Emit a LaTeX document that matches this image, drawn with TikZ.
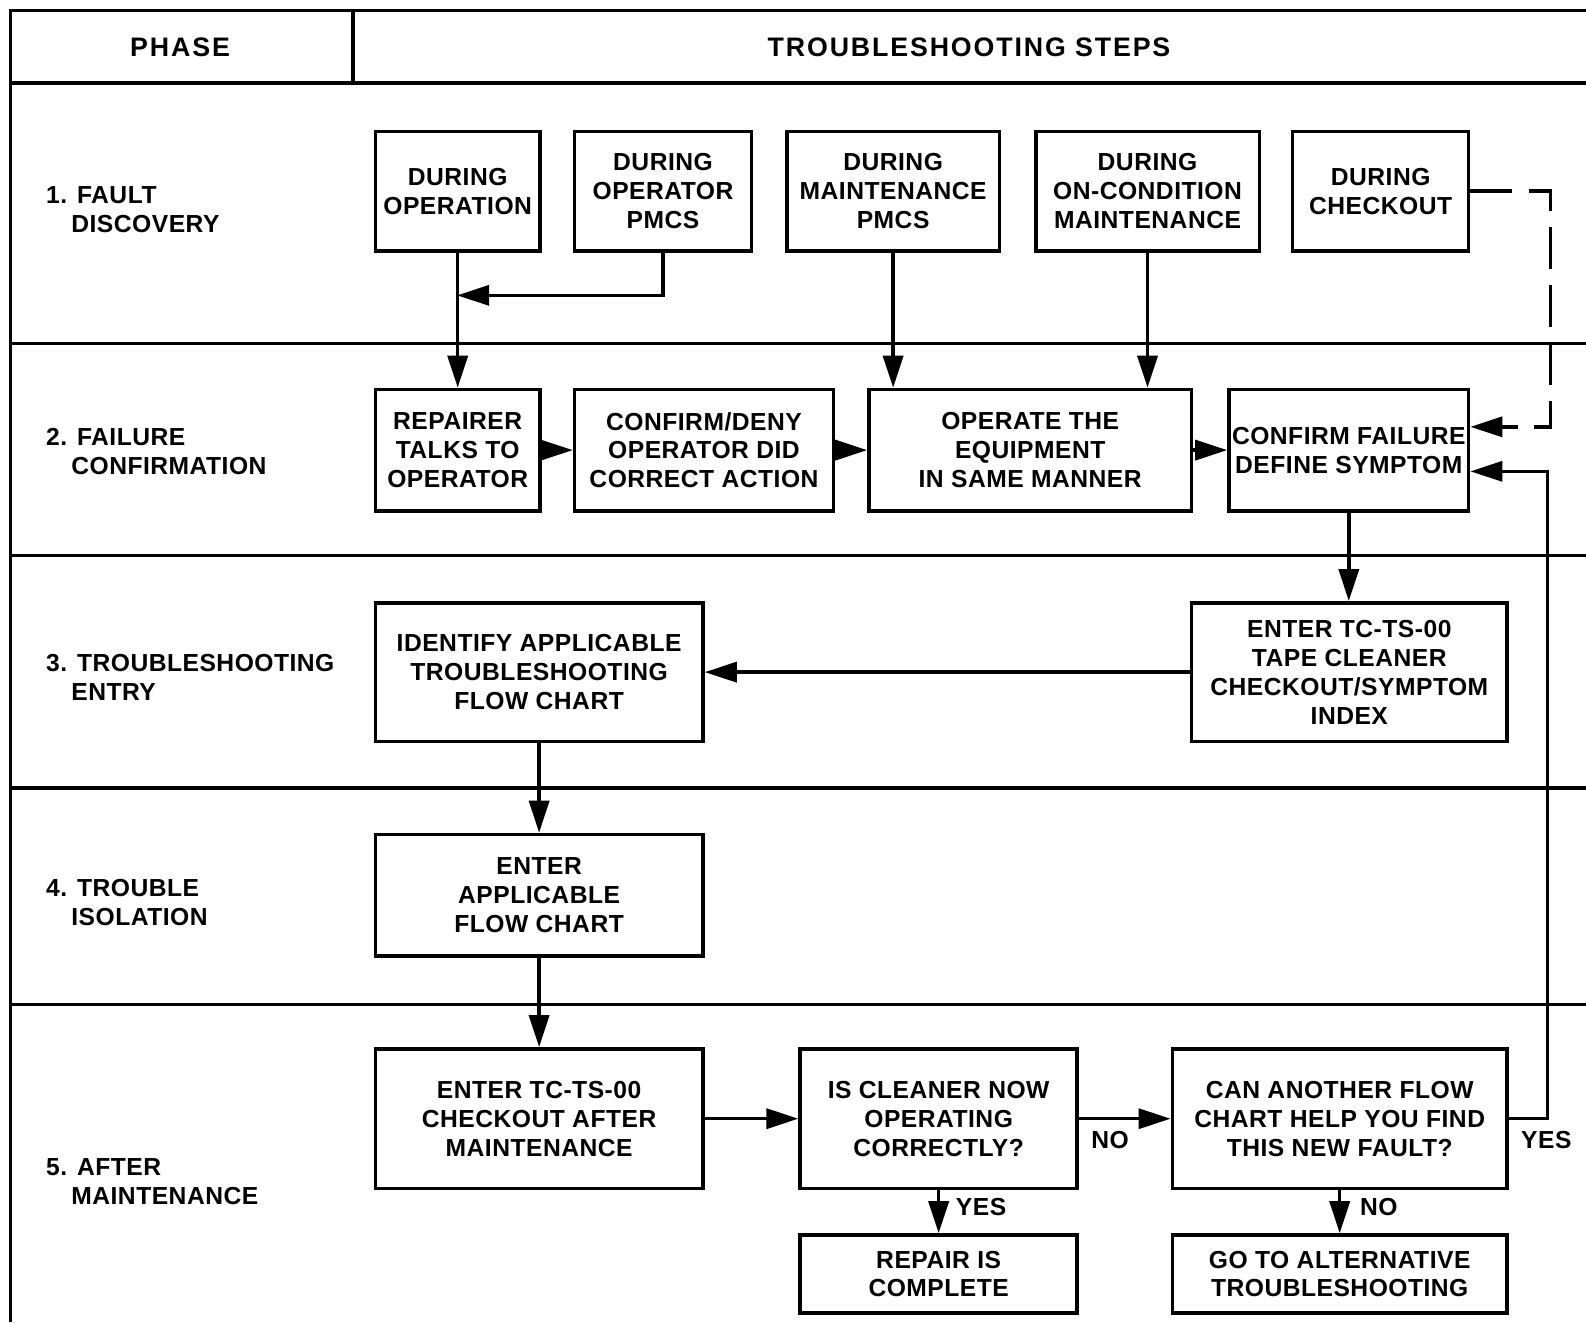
\documentclass[tikz,border=0pt]{standalone}
\usepackage{fontspec}
\setmainfont{Liberation Sans}
\newfontfamily\stepfamily{Liberation Sans}[LetterSpace=2]
\newfontfamily\headfamily{Liberation Sans}[LetterSpace=7]
\usetikzlibrary{arrows.meta,positioning}

\newcommand{\stepfont}{\fontsize{7}{8.2}\selectfont\stepfamily\bfseries}
\newcommand{\headfont}{\fontsize{7.6}{9}\selectfont\headfamily\bfseries}
\tikzset{
  box/.style={draw, line width=1pt, inner sep=0pt, align=center, font=\stepfont},
  corners/.style n args={4}{at={({(#1+#3)/2},{(#2+#4)/2})},
    minimum width={(#3-#1)*0.0101cm}, minimum height={(#4-#2)*0.0101cm}},
  flow/.style={line width=1pt, -{Triangle[length=0.32cm,width=0.2cm]}},
  rule/.style={line width=0.9pt},
  phase/.style={anchor=west, align=left, inner sep=0pt, font=\stepfont},
  head/.style={font=\headfont},
  answer/.style={font=\stepfont, inner sep=3pt},
}

\begin{document}
\begin{tikzpicture}[x=0.0101cm,y=-0.0101cm]
\useasboundingbox (0,0) rectangle (1568,1307);

% Table frame and phase rows
\draw[rule] (1568,10) -- (10,10) -- (10,1307);
\draw[rule] (10,82) -- (1568,82);
\draw[rule] (349,10) -- (349,82);
\foreach \yy in {340,549,779,993}
  \draw[rule] (10,\yy) -- (1568,\yy);

% Header
\node[head] (phasehead) at (178,47) {PHASE};
\node[head] (stepshead) at (958,47) {TROUBLESHOOTING STEPS};

% Phase names
\node[phase] (ph1) at (45,207) {1. FAULT\\\phantom{1.\,}DISCOVERY};
\node[phase] (ph2) at (45,446) {2. FAILURE\\\phantom{1.\,}CONFIRMATION};
\node[phase] (ph3) at (45,670) {3. TROUBLESHOOTING\\\phantom{1.\,}ENTRY};
\node[phase] (ph4) at (45,892) {4. TROUBLE\\\phantom{1.\,}ISOLATION};
\node[phase] (ph5) at (45,1168) {5. AFTER\\\phantom{1.\,}MAINTENANCE};

% 1. Fault discovery
\node[box, corners={371}{130}{534}{248}] (duringop) {DURING\\OPERATION};
\node[box, corners={568}{130}{743}{248}] (oppmcs) {DURING\\OPERATOR\\PMCS};
\node[box, corners={778}{130}{988}{248}] (maintpmcs) {DURING\\MAINTENANCE\\PMCS};
\node[box, corners={1024}{130}{1245}{248}] (oncond) {DURING\\ON-CONDITION\\MAINTENANCE};
\node[box, corners={1278}{130}{1452}{248}] (checkout) {DURING\\CHECKOUT};

% 2. Failure confirmation
\node[box, corners={371}{385}{534}{505}] (repairer) {REPAIRER\\TALKS TO\\OPERATOR};
\node[box, corners={568}{385}{824}{505}] (confdeny) {CONFIRM/DENY\\OPERATOR DID\\CORRECT ACTION};
\node[box, corners={859}{385}{1178}{505}] (operate) {OPERATE THE\\EQUIPMENT\\IN SAME MANNER};
\node[box, corners={1215}{385}{1452}{505}] (confirm) {CONFIRM FAILURE\\DEFINE SYMPTOM};

% 3. Troubleshooting entry
\node[box, corners={371}{596}{695}{733}] (identify) {IDENTIFY APPLICABLE\\TROUBLESHOOTING\\FLOW CHART};
\node[box, corners={1178}{596}{1490}{733}] (tapeindex) {ENTER TC-TS-00\\TAPE CLEANER\\CHECKOUT/SYMPTOM\\INDEX};

% 4. Trouble isolation
\node[box, corners={371}{825}{695}{945}] (enterflow) {ENTER\\APPLICABLE\\FLOW CHART};

% 5. After maintenance
\node[box, corners={371}{1037}{695}{1175}] (checkafter) {ENTER TC-TS-00\\CHECKOUT AFTER\\MAINTENANCE};
\node[box, corners={791}{1037}{1065}{1175}] (cleaner) {IS CLEANER NOW\\OPERATING\\CORRECTLY?};
\node[box, corners={1159}{1037}{1490}{1175}] (another) {CAN ANOTHER FLOW\\CHART HELP YOU FIND\\THIS NEW FAULT?};
\node[box, corners={791}{1221}{1065}{1298}] (complete) {REPAIR IS\\COMPLETE};
\node[box, corners={1159}{1221}{1490}{1298}] (alternative) {GO TO ALTERNATIVE\\TROUBLESHOOTING};

% Connectors
\coordinate (merge) at (452,292);
\coordinate (dashturn) at (1533,422);
\coordinate (loopturn) at (1530,466);

\draw[flow] (duringop.south) -- (repairer.north);
\draw[flow] (oppmcs.south) |- (merge);
\draw[flow] (maintpmcs.south) -- (maintpmcs.south |- operate.north);
\draw[flow] (oncond.south) -- (oncond.south |- operate.north);
\draw[flow, dash pattern=on 0.42cm off 0.16cm] (checkout.east) -| (dashturn) -- (dashturn -| confirm.east);

\draw[flow] (repairer) -- (confdeny);
\draw[flow] (confdeny) -- (operate);
\draw[flow] (operate) -- (confirm);
\draw[flow] (confirm.south) -- (confirm.south |- tapeindex.north);

\draw[flow] (tapeindex) -- (identify);
\draw[flow] (identify) -- (enterflow);
\draw[flow] (enterflow) -- (checkafter);

\draw[flow] (checkafter) -- (cleaner);
\draw[flow] (cleaner) -- node[answer, pos=0, anchor=north west] {NO} (another);
\draw[flow] (cleaner) -- node[answer, pos=0.4, anchor=west, xshift=0.05cm] {YES} (complete);
\draw[flow] (another) -- node[answer, pos=0.4, anchor=west, xshift=0.08cm] {NO} (alternative);
\draw[flow] (another.east) -| node[answer, pos=0, anchor=north west] {YES} (loopturn) -- (loopturn -| confirm.east);
\end{tikzpicture}
\end{document}
